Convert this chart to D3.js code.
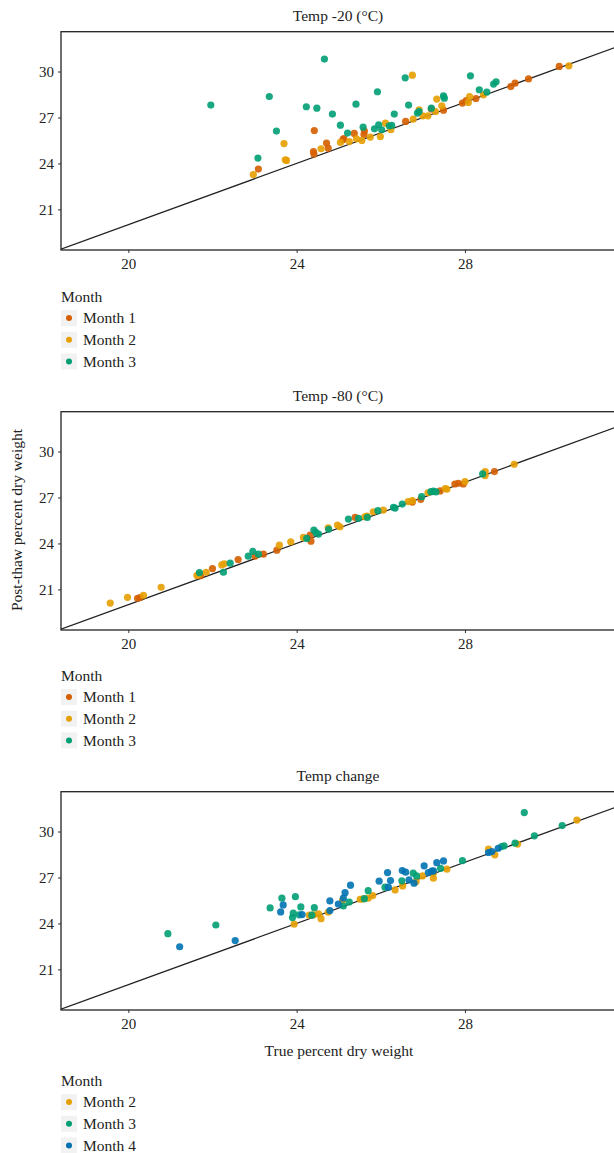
<!DOCTYPE html>
<html>
<head>
<meta charset="utf-8">
<script src="https://cdn.jsdelivr.net/npm/d3@7"></script>
<style>
  body { margin: 0; background: #fff; }
  text { font-family: "Liberation Serif", "DejaVu Serif", serif; fill: #222; }
</style>
</head>
<body>
<div id="chart"></div>
<script>
// Tick labels
var xTicks = [20, 24, 28];
var yTicks = [21, 24, 27, 30];

// Temp -20 panel: [true, post-thaw]
var m20Month1 = [[23.09,23.63],[24.42,26.15],[24.40,24.78],[24.41,24.61],[25.37,25.96],[25.12,25.63],[25.10,25.55],
  [24.71,25.33],[24.75,25.0],[25.61,26.11],[25.60,25.89],[26.59,26.74],[27.20,27.55],[27.49,27.48],[27.94,27.94],
  [28.03,28.11],[28.26,28.24],[29.09,29.02],[29.19,29.24],[29.51,29.52],[30.24,30.33]];
var m20Month2 = [[22.97,23.28],[23.70,25.30],[23.73,24.24],[23.76,24.20],[25.25,25.43],[24.58,24.96],[25.04,25.37],
  [25.42,25.61],[25.55,25.50],[25.75,25.72],[26.11,26.63],[25.99,25.76],[26.24,26.20],[26.75,29.76],[26.77,26.89],
  [26.91,27.50],[27.00,27.11],[27.12,27.11],[27.33,28.20],[27.45,27.76],[27.30,27.39],[28.11,28.37],[28.08,27.98],
  [28.44,28.48],[30.47,30.37]];
var m20Month3 = [[21.96,27.81],[24.66,30.81],[23.35,28.37],[23.52,26.11],[23.08,24.35],[24.23,27.70],[24.48,27.61],
  [24.85,27.22],[25.41,27.87],[25.92,28.68],[25.04,26.50],[25.21,25.98],[25.58,26.37],[25.85,26.26],[25.95,26.52],
  [26.02,26.20],[26.20,26.46],[26.26,26.48],[26.32,27.22],[26.58,29.59],[26.66,27.81],[26.87,27.29],[26.91,27.39],
  [27.20,27.61],[27.49,28.41],[27.51,28.26],[28.13,29.72],[28.34,28.81],[28.52,28.66],[28.68,29.18],[28.74,29.33]];

// Temp -80 panel
var m80Month1 = [[20.22,20.42],[20.28,20.47],[21.72,21.90],[22.00,22.36],[22.61,22.95],[23.01,23.17],[23.21,23.30],
  [23.53,23.56],[24.34,24.15],[24.32,24.54],[25.39,25.70],[26.75,26.70],[26.95,26.88],[27.41,27.43],[27.76,27.88],
  [27.84,27.93],[27.96,27.88],[28.70,28.69]];
var m80Month2 = [[19.57,20.11],[19.98,20.48],[20.36,20.62],[20.78,21.14],[21.63,21.90],[21.67,21.99],[21.85,22.12],
  [22.22,22.60],[22.28,22.67],[23.59,23.89],[23.86,24.11],[24.16,24.39],[24.75,25.02],[24.97,25.20],[25.03,25.09],
  [25.62,25.74],[25.67,25.79],[25.82,26.07],[26.06,26.18],[26.65,26.73],[26.75,26.79],[27.12,27.31],[27.53,27.58],
  [27.57,27.54],[28.00,28.04],[28.48,28.69],[28.48,28.43],[29.17,29.17]];
var m80Month3 = [[21.69,22.10],[22.26,22.12],[22.42,22.71],[22.85,23.17],[22.96,23.48],[23.09,23.30],[24.24,24.33],
  [24.41,24.87],[24.46,24.70],[24.52,24.61],[24.76,24.92],[25.23,25.59],[25.47,25.64],[25.68,25.70],[25.93,26.14],
  [26.30,26.36],[26.34,26.31],[26.51,26.57],[26.97,27.05],[27.19,27.38],[27.25,27.41],[27.31,27.36],[28.42,28.54]];

// Temp change panel
var chMonth2 = [[23.94,23.95],[24.30,24.54],[24.40,24.56],[24.52,24.62],[24.58,24.31],[24.75,24.73],[25.09,25.49],
  [25.51,25.58],[25.58,25.60],[25.70,25.65],[25.81,25.82],[26.34,26.19],[26.52,26.45],[26.84,26.73],[26.99,27.10],
  [27.25,26.95],[27.25,27.30],[27.57,27.54],[28.56,28.85],[28.71,28.48],[29.25,29.18],[30.66,30.75]];
var chMonth3 = [[20.94,23.33],[22.08,23.90],[23.37,25.01],[23.65,25.65],[23.97,25.75],[23.92,24.67],[23.90,24.38],
  [24.06,24.56],[24.10,25.08],[24.42,25.03],[24.36,24.54],[25.11,25.14],[25.25,25.40],[25.61,25.62],[25.70,26.14],
  [26.10,26.37],[26.50,26.78],[26.77,27.28],[26.85,27.10],[27.42,27.60],[27.94,28.10],[28.87,29.02],[28.93,29.07],
  [29.19,29.24],[29.41,31.24],[29.65,29.72],[30.31,30.39]];
var chMonth4 = [[21.22,22.48],[22.54,22.88],[23.68,25.21],[23.62,24.75],[24.13,24.58],[24.79,25.47],[24.79,24.84],
  [24.99,25.27],[25.11,25.65],[25.15,26.01],[25.28,26.50],[25.96,26.76],[26.16,27.32],[26.23,26.80],[26.18,26.37],
  [26.51,27.45],[26.59,27.35],[26.67,26.84],[26.79,26.63],[27.03,27.76],[27.13,27.32],[27.21,27.41],[27.25,27.43],
  [27.33,27.97],[27.49,28.08],[28.56,28.63],[28.64,28.69],[28.79,28.91]];

var colors = { 'Month 1': '#D55E00', 'Month 2': '#E69F00', 'Month 3': '#009E73', 'Month 4': '#0072B2' };

var panels = [
  { title: 'Temp -20 (\u00B0C)', legendY: 297, series: [['Month 1', m20Month1], ['Month 2', m20Month2], ['Month 3', m20Month3]] },
  { title: 'Temp -80 (\u00B0C)', legendY: 676, series: [['Month 1', m80Month1], ['Month 2', m80Month2], ['Month 3', m80Month3]] },
  { title: 'Temp change', legendY: 1081, series: [['Month 2', chMonth2], ['Month 3', chMonth3], ['Month 4', chMonth4]] }
];

var W = 614, H = 1153;
var left = 61, plotTop = 31.7, plotH = 218.3, step = 380;
var tickFont = '15px', labelFont = '15.5px';

var svg = d3.select('#chart').append('svg')
  .attr('width', W)
  .attr('height', H);

var x = d3.scaleLinear().domain([18.4, 32]).range([left, left + 13.6 * 42.08]);
var y = d3.scaleLinear().domain([18.35, 32.6]).range([plotH, 0]);

panels.forEach(function(p, i) {
  var top = plotTop + i * step;
  var g = svg.append('g').attr('transform', 'translate(0,' + top + ')');

  // Panel title
  g.append('text')
    .attr('x', 338).attr('y', -16)
    .attr('dy', '0.35em')
    .attr('text-anchor', 'middle')
    .style('font-size', labelFont)
    .text(p.title);

  var clipId = 'clip' + i;
  g.append('clipPath').attr('id', clipId)
    .append('rect')
    .attr('x', left).attr('y', 0)
    .attr('width', x.range()[1] - left).attr('height', plotH);

  // Axes
  var xAxis = d3.axisBottom(x).tickValues(xTicks).tickSize(3).tickPadding(5);
  var yAxis = d3.axisLeft(y).tickValues(yTicks).tickSize(3).tickPadding(4);

  g.append('g')
    .attr('class', 'x axis')
    .attr('transform', 'translate(0,' + plotH + ')')
    .call(xAxis)
    .call(function(a) {
      a.select('.domain').remove();
      a.selectAll('line').attr('stroke', '#333');
      a.selectAll('text').style('font-size', tickFont).style('font-family', '"Liberation Serif", serif').attr('fill', '#222');
    });

  g.append('g')
    .attr('class', 'y axis')
    .attr('transform', 'translate(' + left + ',0)')
    .call(yAxis)
    .call(function(a) {
      a.select('.domain').remove();
      a.selectAll('line').attr('stroke', '#333');
      a.selectAll('text').style('font-size', tickFont).style('font-family', '"Liberation Serif", serif').attr('fill', '#222');
    });

  var inner = g.append('g').attr('clip-path', 'url(#' + clipId + ')');

  // y = x reference line
  inner.append('line')
    .attr('x1', x(18.4)).attr('y1', y(18.4))
    .attr('x2', x(32)).attr('y2', y(32))
    .attr('stroke', '#222')
    .attr('stroke-width', 1.2);

  p.series.forEach(function(s) {
    inner.selectAll(null)
      .data(s[1])
      .enter().append('circle')
      .attr('cx', function(d) { return x(d[0]); })
      .attr('cy', function(d) { return y(d[1]); })
      .attr('r', 3.6)
      .attr('fill', colors[s[0]])
      .attr('fill-opacity', 0.9);
  });

  // Panel border
  g.append('rect')
    .attr('x', left).attr('y', 0)
    .attr('width', x.range()[1] - left).attr('height', plotH)
    .attr('fill', 'none')
    .attr('stroke', '#222')
    .attr('stroke-width', 1.3);

  // Legend
  var lg = svg.append('g').attr('transform', 'translate(' + left + ',' + p.legendY + ')');
  lg.append('text')
    .attr('x', 0).attr('y', 0)
    .attr('dy', '0.35em')
    .style('font-size', labelFont)
    .text('Month');
  p.series.forEach(function(s, j) {
    var ky = 21 + j * 21.7;
    lg.append('rect')
      .attr('x', 0).attr('y', ky - 8)
      .attr('width', 16).attr('height', 16)
      .attr('fill', '#F2F2F2');
    lg.append('circle')
      .attr('cx', 8).attr('cy', ky)
      .attr('r', 3)
      .attr('fill', colors[s[0]]);
    lg.append('text')
      .attr('x', 22).attr('y', ky)
      .attr('dy', '0.35em')
      .style('font-size', labelFont)
      .text(s[0]);
  });
});

// Axis titles
svg.append('text')
  .attr('x', 339).attr('y', 1051)
  .attr('dy', '0.35em')
  .attr('text-anchor', 'middle')
  .style('font-size', labelFont)
  .text('True percent dry weight');

svg.append('text')
  .attr('transform', 'translate(17,520) rotate(-90)')
  .attr('dy', '0.35em')
  .attr('text-anchor', 'middle')
  .style('font-size', labelFont)
  .text('Post-thaw percent dry weight');
</script>
</body>
</html>
